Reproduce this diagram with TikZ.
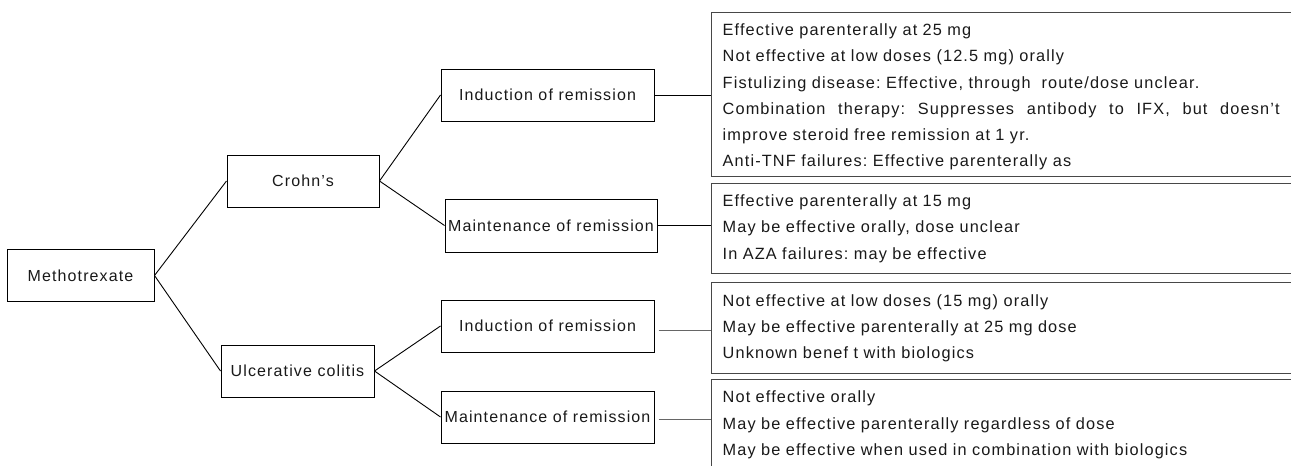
\documentclass[tikz,border=0pt]{standalone}
\usepackage{fontspec}
\setmainfont{Liberation Sans}
\newfontfamily\tfont[LetterSpace=7]{Liberation Sans}
\newcommand{\js}{\hskip 0.3em plus 1fil\relax}
\frenchspacing
\begin{document}
\begin{tikzpicture}[x=1pt,y=-1pt,
  nbox/.style={draw=black, line width=1pt, minimum height=52pt, inner sep=0pt,
    font=\tfont\frenchspacing\fontsize{16}{18}\selectfont, text=black!90},
  tbox/.style={draw=black!72, line width=1.3pt, anchor=north west, align=left,
    text width=570pt, inner xsep=11.3pt, inner ysep=0pt, text=black!90,
    font=\tfont\frenchspacing\fontsize{16.3}{26.2}\selectfont},
  link/.style={line width=0.9pt, draw=black},
  glink/.style={line width=1pt, draw=black!60}]
\useasboundingbox (0,0) rectangle (1291,466);
\clip (0,0) rectangle (1291,466);

% tree nodes
\node[nbox, minimum width=147pt] (meth) at (80.5,275.5) {Methotrexate};
\node[nbox, minimum width=152pt] (crohn) at (303,181) {Crohn’s};
\node[nbox, minimum width=153pt] (uc) at (297.5,371) {Ulcerative colitis};
\node[nbox, minimum width=213pt] (ci) at (547.5,95) {Induction of remission};
\node[nbox, minimum width=212pt, minimum height=53pt] (cm) at (551,225.5) {Maintenance of remission};
\node[nbox, minimum width=213pt] (ui) at (547.5,326) {Induction of remission};
\node[nbox, minimum width=213pt] (um) at (547.5,417) {Maintenance of remission};

% text boxes
\node[tbox, minimum height=164pt, text height=16.5pt] (t1) at (710.7,12) {%
Effective parenterally at 25 mg\\
Not effective at low doses (12.5 mg) orally\\
Fistulizing disease: Effective, through\ \ route/dose unclear.\\
\leavevmode\hbox to 557pt{Combination\js therapy:\js Suppresses\js antibody\js to\js IFX,\js but\js doesn’t}\\
improve steroid free remission at 1 yr.\\
Anti-TNF failures: Effective parenterally as};
\node[tbox, minimum height=90pt] (t2) at (710.7,183) {%
Effective parenterally at 15 mg\\
May be effective orally, dose unclear\\
In AZA failures: may be effective};
\node[tbox, minimum height=91pt] (t3) at (710.7,282) {%
Not effective at low doses (15 mg) orally\\
May be effective parenterally at 25 mg dose\\
Unknown benef t with biologics};
\node[tbox, inner ysep=11.5pt] (t4) at (710.7,379) {%
Not effective orally\\
May be effective parenterally regardless of dose\\
May be effective when used in combination with biologics};

% connectors
\draw[link] (meth.east) -- (crohn.west);
\draw[link] (meth.east) -- (uc.west);
\draw[link] (crohn.east) -- (ci.west);
\draw[link] (crohn.east) -- (cm.west);
\draw[link] (uc.east) -- (ui.west);
\draw[link] (uc.east) -- (um.west);
\draw[link] (ci.east) -- (ci.east -| t1.west);
\draw[link] (cm.east) -- (cm.east -| t2.west);
\draw[glink] ([xshift=4pt,yshift=-4pt]ui.east) -- ([yshift=-4pt]ui.east -| t3.west);
\draw[glink] ([xshift=4pt,yshift=-2pt]um.east) -- ([yshift=-2pt]um.east -| t4.west);
\end{tikzpicture}
\end{document}
